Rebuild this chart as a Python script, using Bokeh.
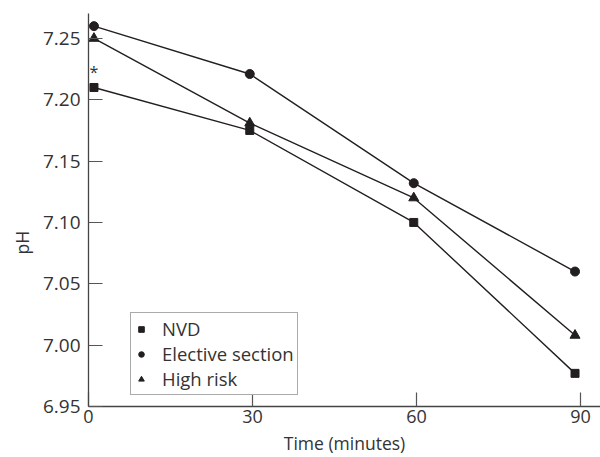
import math
from bokeh.plotting import figure
from bokeh.models import Range1d, Legend, LegendItem, Label, FixedTicker, Title
from bokeh.embed import file_html
from bokeh.resources import INLINE

# ---- data ----
times = [1, 29.5, 59.5, 89]
nvd = [7.21, 7.175, 7.10, 6.977]
elective = [7.26, 7.221, 7.132, 7.06]
high_risk = [7.25, 7.181, 7.12, 7.008]
x_ticks = [0, 30, 60, 90]
y_ticks = [6.95, 7.00, 7.05, 7.10, 7.15, 7.20, 7.25]
series_names = ["NVD", "Elective section", "High risk"]
asterisk_time = 1
asterisk_ph = 7.223

FONT = "Open Sans"
INK = "#231f20"
TEXT = "#333333"

p = figure(width=600, height=457, output_backend="svg", toolbar_location=None,
           x_range=Range1d(0, 93.66), y_range=Range1d(6.95, 7.2703),
           min_border_left=88, min_border_right=0, min_border_top=13, min_border_bottom=50)
p.outline_line_color = None
p.grid.visible = False
p.background_fill_color = "white"
p.border_fill_color = "white"

for ax in (p.xaxis, p.yaxis):
    ax.axis_line_color = "#444444"
    ax.axis_line_width = 1.3
    ax.major_tick_in = 14
    ax.major_tick_out = 0
    ax.minor_tick_line_color = None
    ax.major_tick_line_color = "#555555"
    ax.major_tick_line_width = 1.2
    ax.major_label_text_font = FONT
    ax.major_label_text_color = TEXT

p.yaxis.major_label_text_font_size = "19px"
p.xaxis.major_label_text_font_size = "18px"
p.xaxis.ticker = FixedTicker(ticks=x_ticks)
p.yaxis.ticker = FixedTicker(ticks=y_ticks)
p.yaxis.major_label_overrides = {t: f"{t:.2f}" for t in y_ticks}
p.xaxis.major_label_standoff = 3
p.yaxis.major_label_standoff = 8
p.xaxis.axis_label = "Time (minutes)"
p.xaxis.axis_label_text_font = FONT
p.xaxis.axis_label_text_font_size = "17.5px"
p.xaxis.axis_label_text_font_style = "normal"
p.xaxis.axis_label_text_color = TEXT
p.xaxis.axis_label_standoff = 5

ytitle = Title(text="pH", align="left", offset=152, text_font=FONT,
               text_font_size="17.5px", text_font_style="normal", text_color=TEXT,
               standoff=12)
p.add_layout(ytitle, "left")

lw = 1.4
p.line(times, nvd, line_color=INK, line_width=lw)
p.line(times, elective, line_color=INK, line_width=lw)
p.line(times, high_risk, line_color=INK, line_width=lw)
r1 = p.scatter(times, nvd, marker="square", size=8, fill_color=INK, line_color=INK)
r2 = p.scatter(times, elective, marker="circle", size=9, fill_color=INK, line_color=INK)
r3 = p.scatter(times, high_risk, marker="triangle", size=10, fill_color=INK, line_color=INK)

star = Label(x=asterisk_time, y=asterisk_ph, text="*", text_font=FONT,
             text_font_size="16px", text_color=TEXT,
             text_align="center", text_baseline="middle")
p.add_layout(star)

legend = Legend(items=[LegendItem(label=series_names[0], renderers=[r1]),
                       LegendItem(label=series_names[1], renderers=[r2]),
                       LegendItem(label=series_names[2], renderers=[r3])],
                location=(42, 11))
legend.label_text_font = FONT
legend.label_text_font_size = "18.5px"
legend.label_text_color = TEXT
legend.border_line_color = "#555555"
legend.border_line_width = 1.2
legend.background_fill_alpha = 1
legend.padding = 3
legend.margin = 0
legend.spacing = -3
legend.glyph_width = 14
legend.glyph_height = 20
legend.label_height = 20
legend.label_standoff = 14
p.add_layout(legend, "center")

open("out.html", "w").write(file_html(p, INLINE))
